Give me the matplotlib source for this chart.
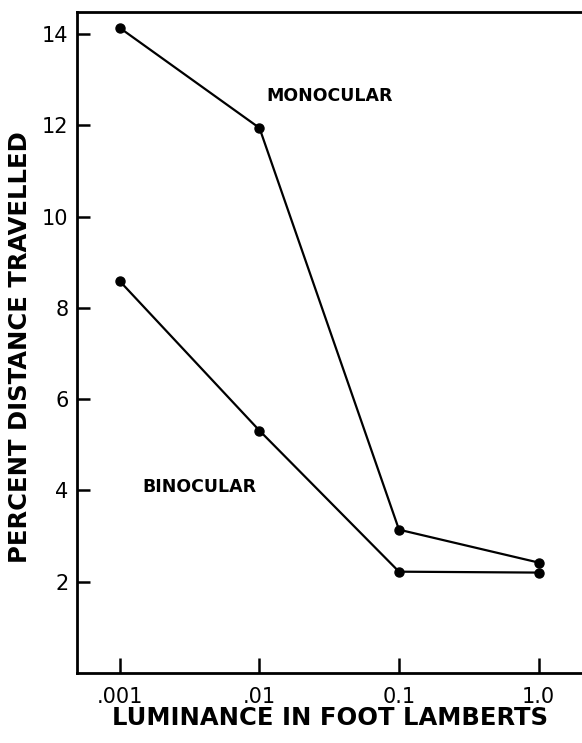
import matplotlib
matplotlib.use("Agg")
import matplotlib.pyplot as plt

luminance = [0.001, 0.01, 0.1, 1.0]
monocular = [14.13, 11.94, 3.14, 2.42]
binocular = [8.58, 5.31, 2.22, 2.20]
x_tick_labels = [".001", ".01", "0.1", "1.0"]
y_ticks = [2, 4, 6, 8, 10, 12, 14]

fig = plt.figure(figsize=(5.82, 7.43), dpi=100)
ax = fig.add_axes([0.1323, 0.0942, 0.8677, 0.8896])

ax.plot(luminance, monocular, color="black", lw=1.6, marker="o", ms=6.5)
ax.plot(luminance, binocular, color="black", lw=1.6, marker="o", ms=6.5)

ax.set_xscale("log")
ax.set_xlim(4.92e-4, 2.05)
ax.set_ylim(0, 14.48)

ax.set_xticks(luminance)
ax.set_xticklabels(x_tick_labels)
ax.minorticks_off()
ax.set_yticks(y_ticks)
ax.set_yticklabels([str(v) for v in y_ticks])

ax.tick_params(axis="both", direction="in", width=1.8, labelsize=15, colors="black")
ax.tick_params(axis="x", length=11, pad=10)
ax.tick_params(axis="y", length=9, pad=6)

for s in ["left", "bottom", "top"]:
    ax.spines[s].set_linewidth(2)
ax.spines["right"].set_visible(False)

ax.text(0.0112, 12.64, "MONOCULAR", fontsize=12.5, fontweight="bold", va="center", ha="left")
ax.text(0.00145, 4.08, "BINOCULAR", fontsize=12.5, fontweight="bold", va="center", ha="left")

fig.text(0.567, 0.034, "LUMINANCE IN FOOT LAMBERTS", fontsize=17.5, fontweight="bold",
         ha="center", va="center")
fig.text(0.034, 0.533, "PERCENT DISTANCE TRAVELLED", fontsize=17.5, fontweight="bold",
         ha="center", va="center", rotation=90)

fig.savefig("out.png", dpi=100)
